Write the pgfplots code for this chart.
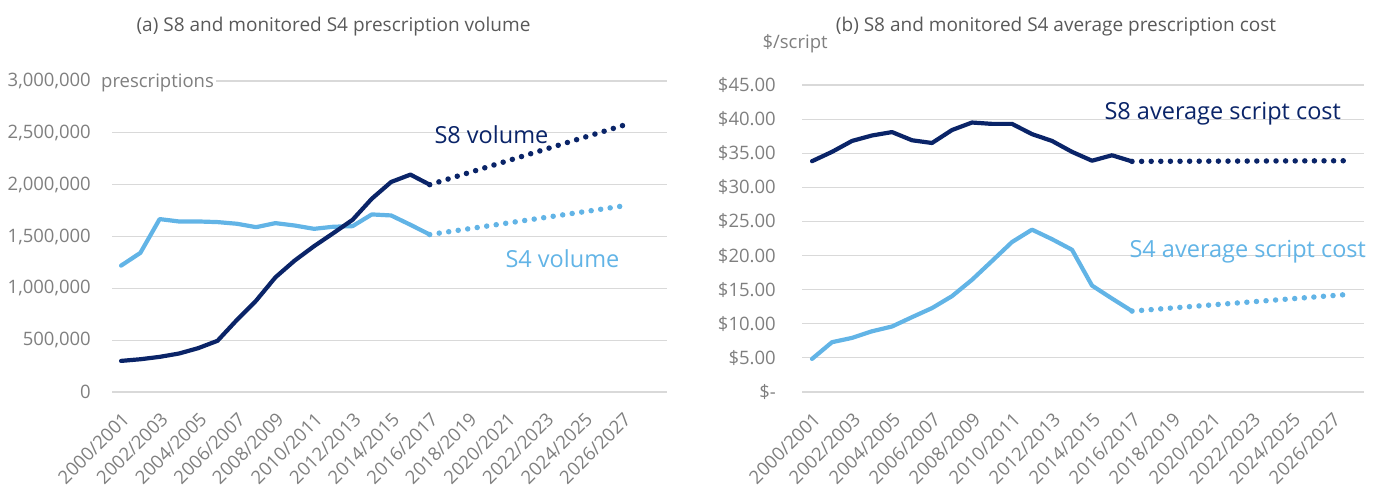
\documentclass[border=0pt]{standalone}
\usepackage{fontspec}
\setmainfont{Open Sans}
\usepackage{pgfplots}
\pgfplotsset{compat=1.18}
\definecolor{navy}{HTML}{0A2468}
\definecolor{lblue}{HTML}{62B4E6}
\definecolor{tickgray}{HTML}{7F7F7F}
\definecolor{titlegray}{HTML}{595959}
\definecolor{gridgray}{HTML}{D9D9D9}
\newcommand{\tfont}{\fontsize{18.5}{21}\selectfont}
\newcommand{\afont}{\fontsize{23.5}{27}\selectfont}
\pgfplotsset{
  panel/.style={
    scale only axis,
    anchor=south west,
    axis line style={draw=none},
    tick style={draw=none},
    ymajorgrids,
    major grid style={gridgray, line width=1.2pt},
    scaled y ticks=false,
    xtick={0,2,...,26},
    xticklabels={2000/2001,2002/2003,2004/2005,2006/2007,2008/2009,2010/2011,2012/2013,2014/2015,2016/2017,2018/2019,2020/2021,2022/2023,2024/2025,2026/2027},
    xticklabel style={rotate=45, anchor=north east, inner sep=0pt, font=\tfont, text=tickgray},
    xticklabel shift=19pt,
    yticklabel style={anchor=east, inner sep=0pt, font=\tfont, text=tickgray},
    /pgf/number format/assume math mode=true,
    clip=false,
  },
  solidline/.style={line width=4.2pt, line join=round, line cap=round, mark=none},
  dotline/.style={line width=5.5pt, line cap=round, dash pattern=on 0pt off 9.6pt, mark=none},
}
\begin{document}
\begin{tikzpicture}[x=1pt,y=1pt]
\useasboundingbox (0,0) rectangle (1386,491);
% ---------------- left panel ----------------
\begin{axis}[panel,
  at={(112pt,99pt)}, width=555pt, height=311pt,
  xmin=-0.47, xmax=28.3, ymin=0, ymax=3000000,
  ytick={0,500000,1000000,1500000,2000000,2500000,3000000},
  yticklabels={0,{500,000},{1,000,000},{1,500,000},{2,000,000},{2,500,000},{3,000,000}},
  yticklabel shift=21pt,
]
\addplot[solidline, lblue] coordinates {
(0,1219000)(1,1342000)(2,1668000)(3,1645000)(4,1645000)(5,1639000)(6,1623000)(7,1590000)(8,1629000)(9,1606000)(10,1574000)(11,1594000)(12,1600000)(13,1713000)(14,1703000)(15,1613000)(16,1519000)};
\addplot[dotline, lblue] coordinates {(16,1519000)(26,1794000)};
\addplot[solidline, navy] coordinates {
(0,300000)(1,316000)(2,339000)(3,371000)(4,423000)(5,494000)(6,694000)(7,881000)(8,1106000)(9,1268000)(10,1406000)(11,1532000)(12,1661000)(13,1865000)(14,2026000)(15,2097000)(16,2000000)};
\addplot[dotline, navy] coordinates {(16,2000000)(26,2570000)};
\end{axis}
\node[anchor=base west, inner xsep=2pt, inner ysep=3pt, fill=white, text=tickgray, font=\tfont] at (99,403.5) {prescriptions};
\node[anchor=base, text=titlegray, font=\fontsize{19}{22}\selectfont] at (333.5,459) {(a) S8 and monitored S4 prescription volume};
\node[anchor=base west, text=navy, font=\afont] at (431,348) {S8 volume};
\node[anchor=base west, text=lblue, font=\afont] at (502,224) {S4 volume};
% ---------------- right panel ----------------
\begin{axis}[panel,
  at={(802pt,99pt)}, width=562pt, height=307pt,
  xmin=-0.5, xmax=27.6, ymin=0, ymax=45,
  ytick={0,5,...,45},
  yticklabels={{\$-\hspace{10pt}},{\$5.00},{\$10.00},{\$15.00},{\$20.00},{\$25.00},{\$30.00},{\$35.00},{\$40.00},{\$45.00}},
  yticklabel shift=26pt,
]
\addplot[solidline, lblue] coordinates {
(0,4.85)(1,7.3)(2,7.93)(3,8.9)(4,9.6)(5,10.97)(6,12.3)(7,14.05)(8,16.45)(9,19.2)(10,21.98)(11,23.8)(12,22.4)(13,20.85)(14,15.6)(15,13.7)(16,11.86)};
\addplot[dotline, lblue] coordinates {(16,11.86)(27,14.35)};
\addplot[solidline, navy] coordinates {
(0,33.83)(1,35.2)(2,36.8)(3,37.6)(4,38.1)(5,36.9)(6,36.5)(7,38.4)(8,39.5)(9,39.3)(10,39.3)(11,37.8)(12,36.8)(13,35.2)(14,33.9)(15,34.7)(16,33.8)};
\addplot[dotline, navy] coordinates {(16,33.8)(27,33.9)};
\end{axis}
\node[anchor=base west, text=tickgray, font=\tfont] at (759,442) {\$/script};
\node[anchor=base, text=titlegray, font=\fontsize{19}{22}\selectfont] at (1056,459) {(b) S8 and monitored S4 average prescription cost};
\node[anchor=base west, text=navy, font=\afont] at (1101,371) {S8 average script cost};
\node[anchor=base west, text=lblue, font=\afont] at (1126,234) {S4 average script cost};
\end{tikzpicture}
\end{document}
